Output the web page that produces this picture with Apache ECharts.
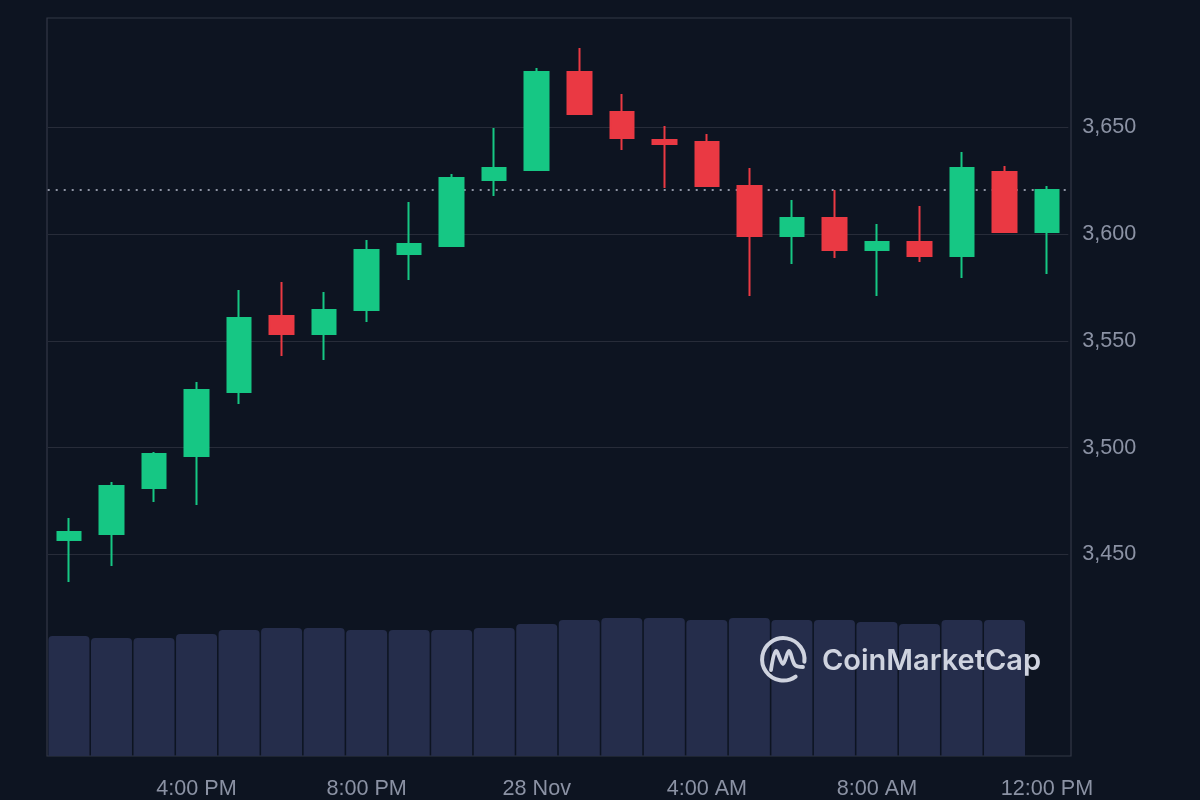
<!DOCTYPE html>
<html>
<head>
<meta charset="utf-8">
<script src="https://cdn.jsdelivr.net/npm/echarts@6/dist/echarts.min.js"></script>
<style>
html,body{margin:0;padding:0;background:#0d1421;}
#chart{width:1200px;height:800px;}
</style>
</head>
<body>
<div id="chart"></div>
<script>
const categories = ['1:00 PM','2:00 PM','3:00 PM','4:00 PM','5:00 PM','6:00 PM','7:00 PM','8:00 PM','9:00 PM','10:00 PM','11:00 PM','28 Nov',
  '1:00 AM','2:00 AM','3:00 AM','4:00 AM','5:00 AM','6:00 AM','7:00 AM','8:00 AM','9:00 AM','10:00 AM','11:00 AM','12:00 PM'];
const opens  = [3456.8, 3459.6, 3481.1, 3496.1, 3526.0, 3561.6, 3553.2, 3564.4, 3590.6, 3594.3, 3625.2, 3629.9, 3675.7, 3657.0, 3643.9, 3643.0, 3622.4, 3599.0, 3607.4, 3592.5, 3596.2, 3589.6, 3628.9, 3600.9];
const closes = [3460.5, 3482.0, 3497.0, 3527.0, 3560.6, 3553.2, 3564.4, 3592.5, 3595.3, 3626.1, 3630.8, 3675.7, 3656.1, 3644.9, 3642.0, 3622.4, 3599.0, 3607.4, 3592.5, 3596.2, 3589.6, 3630.8, 3600.9, 3620.5];
const lows   = [3437.1, 3444.6, 3474.6, 3473.2, 3520.4, 3542.9, 3541.0, 3558.8, 3578.4, 3594.3, 3617.7, 3629.9, 3656.1, 3639.2, 3621.5, 3622.4, 3570.9, 3585.9, 3588.7, 3570.9, 3586.8, 3579.4, 3600.9, 3581.2];
const highs  = [3467.1, 3483.9, 3498.0, 3530.7, 3573.7, 3577.5, 3572.8, 3597.1, 3614.9, 3628.0, 3649.5, 3677.6, 3687.0, 3665.4, 3650.5, 3646.7, 3630.8, 3615.8, 3620.5, 3604.6, 3613.0, 3638.3, 3631.8, 3622.4];
const volumes = [1.20, 1.18, 1.18, 1.22, 1.26, 1.28, 1.28, 1.26, 1.26, 1.26, 1.28, 1.32, 1.36, 1.38, 1.38, 1.36, 1.38, 1.36, 1.36, 1.34, 1.32, 1.36, 1.36];
const yTicks = [3450, 3500, 3550, 3600, 3650];
const xTickLabels = ['4:00 PM', '8:00 PM', '28 Nov', '4:00 AM', '8:00 AM', '12:00 PM'];

const candleData = categories.map((c, i) => [opens[i], closes[i], lows[i], highs[i]]);
const lastPrice = closes[closes.length - 1];

const chart = echarts.init(document.getElementById('chart'), null, {renderer: 'canvas'});
const labelFont = {color: '#8b92a4', fontSize: 21.6, fontFamily: 'Liberation Sans, Arial, sans-serif'};

chart.setOption({
  backgroundColor: '#0d1421',
  animation: false,
  grid: [
    {left: 47.7, right: 131.7, top: 20.1, bottom: 138.6},
    {left: 47.7, right: 131.7, top: 18, bottom: 44},
    {left: 47, right: 129, top: 18, bottom: 44, show: true, borderColor: '#323846', borderWidth: 1.2, backgroundColor: 'transparent', z: 0}
  ],
  xAxis: [
    {type: 'category', gridIndex: 0, data: categories, boundaryGap: true, show: false},
    {type: 'category', gridIndex: 1, data: categories, boundaryGap: true,
      axisLine: {show: false}, axisTick: {show: false}, splitLine: {show: false},
      axisLabel: Object.assign({margin: 22, interval: (i, v) => xTickLabels.includes(v)}, labelFont)},
    {type: 'value', gridIndex: 2, show: false}
  ],
  yAxis: [
    {type: 'value', gridIndex: 0, position: 'right', min: 3400, max: 3700, interval: 50,
      axisLine: {show: false}, axisTick: {show: false},
      splitLine: {show: true, showMinLine: false, showMaxLine: false, lineStyle: {color: '#272c39', width: 1.2}},
      axisLabel: Object.assign({margin: 14, showMinLabel: false, showMaxLabel: false,
        formatter: v => yTicks.includes(v) ? v.toLocaleString('en-US') : ''}, labelFont)},
    {type: 'value', gridIndex: 1, min: 0, max: 7.38, show: false},
    {type: 'value', gridIndex: 2, show: false}
  ],
  graphic: [
    {type: 'arc', z: 10, shape: {cx: 783.3, cy: 659.3, r: 21.2, startAngle: 0.95, endAngle: Math.PI * 2 + 0.12, clockwise: true},
      style: {stroke: '#cfd3df', lineWidth: 4, fill: null, lineCap: 'round'}},
    {type: 'polyline', z: 10, shape: {points: [[771, 670], [776, 651], [783, 664], [789, 651], [795, 665], [803, 667]], smooth: 0.35},
      style: {stroke: '#cfd3df', lineWidth: 3.8, fill: null, lineCap: 'round', lineJoin: 'round'}},
    {type: 'text', z: 10, x: 822, y: 661, style: {text: 'CoinMarketCap', fill: '#cfd3df', font: '600 29px Inter, sans-serif', textVerticalAlign: 'middle'}}
  ],
  series: [
    {type: 'bar', xAxisIndex: 1, yAxisIndex: 1, data: volumes, barWidth: 41, z: 1,
      itemStyle: {color: '#252d4b', borderRadius: [4, 4, 0, 0]}, silent: true},
    {type: 'candlestick', xAxisIndex: 0, yAxisIndex: 0, data: candleData, barWidth: 24, z: 3,
      itemStyle: {color: '#16c784', color0: '#ea3943', borderColor: '#16c784', borderColor0: '#ea3943', borderWidth: 2},
      markLine: {z: 2, silent: true, symbol: 'none', label: {show: false},
        lineStyle: {color: '#8d93a3', type: [2, 6], width: 2},
        data: [{yAxis: lastPrice}]}}
  ]
});
</script>
</body>
</html>
